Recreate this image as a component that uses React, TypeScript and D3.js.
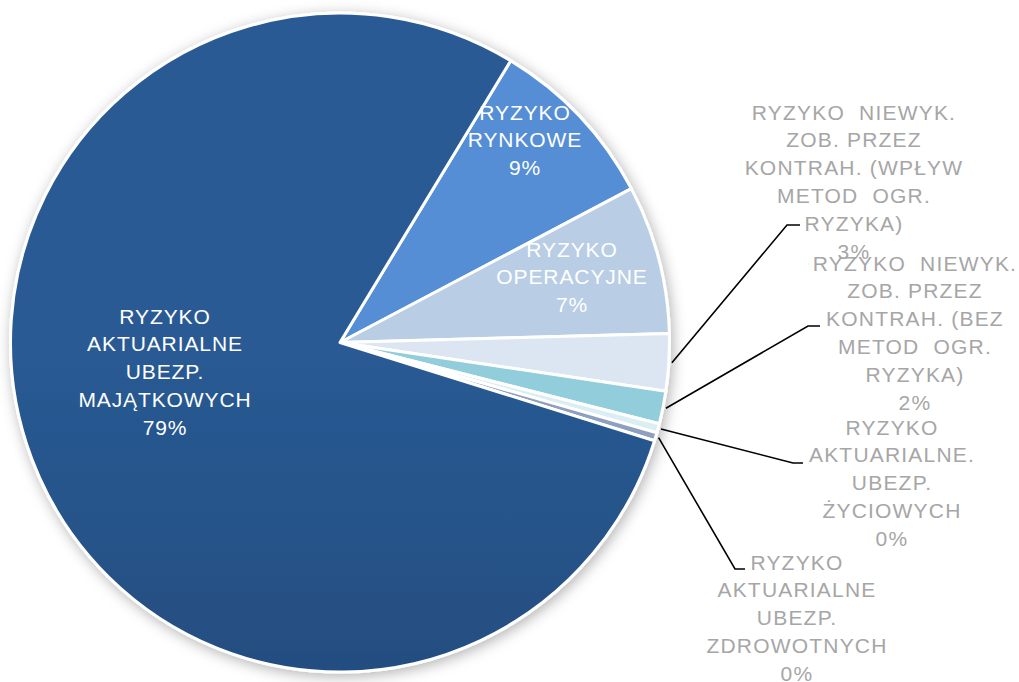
import * as d3 from 'd3';

// kategorie ryzyka (kolejność zgodnie z ruchem wskazówek zegara, od ok. 31°)
const categories = [
  'RYZYKO RYNKOWE',
  'RYZYKO OPERACYJNE',
  'RYZYKO NIEWYK. ZOB. PRZEZ KONTRAH. (WPŁYW METOD OGR. RYZYKA)',
  'RYZYKO NIEWYK. ZOB. PRZEZ KONTRAH. (BEZ METOD OGR. RYZYKA)',
  'RYZYKO AKTUARIALNE. UBEZP. ŻYCIOWYCH',
  'RYZYKO AKTUARIALNE UBEZP. ZDROWOTNYCH',
  'RYZYKO AKTUARIALNE UBEZP. MAJĄTKOWYCH',
];
const values = [8.6, 7.3, 2.8, 1.6, 0.45, 0.4, 78.85];
const labelLines = [
  ['RYZYKO', 'RYNKOWE'],
  ['RYZYKO', 'OPERACYJNE'],
  ['RYZYKO  NIEWYK.', 'ZOB. PRZEZ', 'KONTRAH. (WPŁYW', 'METOD  OGR.', 'RYZYKA)'],
  ['RYZYKO  NIEWYK.', 'ZOB. PRZEZ', 'KONTRAH. (BEZ', 'METOD  OGR.', 'RYZYKA)'],
  ['RYZYKO', 'AKTUARIALNE.', 'UBEZP.', 'ŻYCIOWYCH'],
  ['RYZYKO', 'AKTUARIALNE', 'UBEZP.', 'ZDROWOTNYCH'],
  ['RYZYKO', 'AKTUARIALNE', 'UBEZP.', 'MAJĄTKOWYCH'],
];
const colors = ['#558ed5', '#b9cde5', '#dce6f2', '#92cddc', '#dbeef4', '#8f9fbf', 'url(#bigGrad)'];

// rozmieszczenie etykiet: [środek x, środek pierwszej linii y, łokieć linii odniesienia]
const labelPos: { x: number; y: number; leader?: [number, number, number] }[] = [
  { x: 525, y: 112 },
  { x: 572, y: 249 },
  { x: 854, y: 112, leader: [787, 225, 800] },
  { x: 915, y: 263, leader: [808, 326, 820] },
  { x: 892, y: 427, leader: [793, 463, 803] },
  { x: 797, y: 562, leader: [735, 569, 745] },
  { x: 165, y: 316 },
];

const width = 1019;
const height = 682;
const cx = 340;
const cy = 342.5;
const radius = 329.5;
const lineH = 27.8;
const startDeg = 31.2;

export default function App() {
  const total = d3.sum(values);
  const pie = d3
    .pie<number>()
    .sort(null)
    .value((d) => d)
    .startAngle((startDeg * Math.PI) / 180)
    .endAngle((startDeg * Math.PI) / 180 + 2 * Math.PI);
  const arcs = pie(values);
  const arc = d3.arc<d3.PieArcDatum<number>>().innerRadius(0).outerRadius(radius);

  return (
    <svg
      width={width}
      height={height}
      style={{ position: 'absolute', left: 0, top: 0, background: '#fff' }}
      fontFamily='"Liberation Sans", Arial, sans-serif'
    >
      <defs>
        <linearGradient id="bigGrad" gradientUnits="userSpaceOnUse" x1="0" y1={cy - radius} x2="0" y2={cy + radius}>
          <stop offset="0" stopColor="#295a93" />
          <stop offset="1" stopColor="#1f406c" />
        </linearGradient>
        <filter id="shadow" x="-10%" y="-10%" width="120%" height="120%">
          <feDropShadow dx="2" dy="3" stdDeviation="7" floodColor="#000" floodOpacity="0.3" />
        </filter>
      </defs>
      <g transform={`translate(${cx},${cy})`}>
        <g filter="url(#shadow)">
          {arcs.map((a, i) => (
            <path key={i} d={arc(a) || ''} fill={colors[i]} stroke="#fff" strokeWidth={3} strokeLinejoin="round" />
          ))}
        </g>
        {arcs.map((a, i) => {
          const lp = labelPos[i];
          if (!lp.leader) return null;
          const mid = (a.startAngle + a.endAngle) / 2;
          const r0 = radius + 3;
          const x0 = Math.sin(mid) * r0;
          const y0 = -Math.cos(mid) * r0;
          const [ex, ey, hx] = lp.leader;
          return (
            <polyline
              key={'l' + i}
              points={`${x0},${y0} ${ex - cx},${ey - cy} ${hx - cx},${ey - cy}`}
              fill="none"
              stroke="#000"
              strokeWidth={1.6}
            />
          );
        })}
      </g>
      {arcs.map((a, i) => {
        const lp = labelPos[i];
        const inside = !lp.leader;
        const lines = [...labelLines[i], `${Math.round((values[i] / total) * 100)}%`];
        return (
          <text
            key={'t' + i}
            x={lp.x}
            textAnchor="middle"
            fontSize={21}
            letterSpacing={inside ? 0.9 : 1.2}
            fill={inside ? '#ffffff' : '#a6a6a6'}
            style={{ whiteSpace: 'pre' }}
          >
            {lines.map((ln, j) => (
              <tspan key={j} x={lp.x} y={lp.y + 7.5 + j * lineH}>
                {ln}
              </tspan>
            ))}
          </text>
        );
      })}
    </svg>
  );
}
